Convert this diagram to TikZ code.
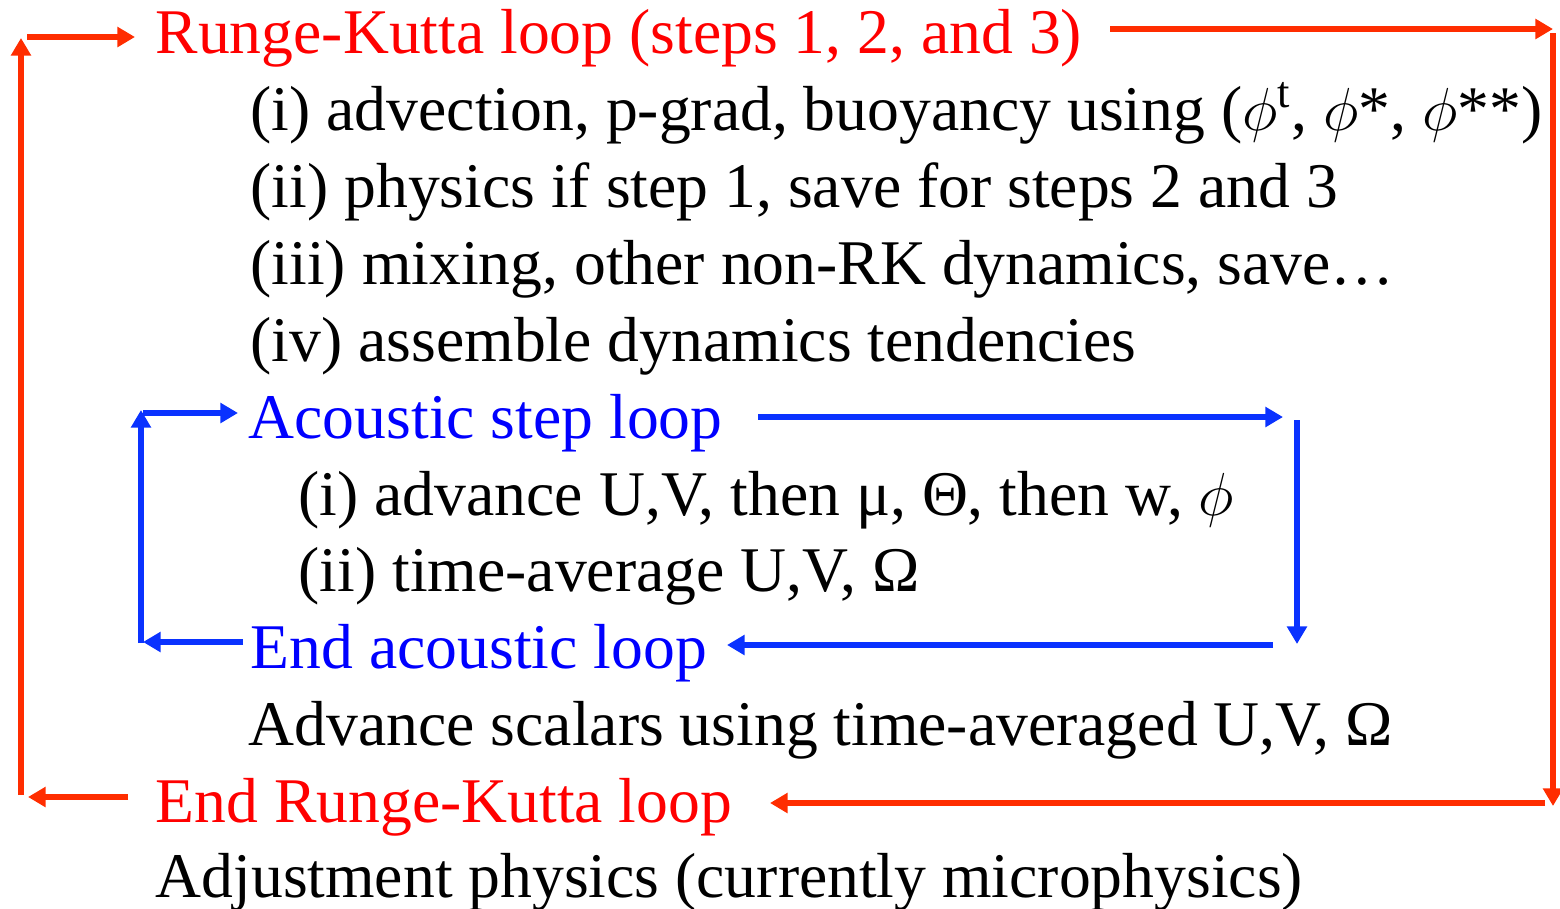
\documentclass[tikz,border=0pt]{standalone}
\usepackage{fontspec}
\setmainfont{Liberation Serif}
\usetikzlibrary{arrows.meta}
\definecolor{rktext}{RGB}{255,0,0}
\definecolor{rkline}{RGB}{255,45,0}
\definecolor{actext}{RGB}{0,0,255}
\definecolor{acline}{RGB}{10,50,255}
\tikzset{
  txt/.style={anchor=base west, inner sep=0pt, font=\fontsize{18.1}{22}\selectfont},
  rkarrow/.style={draw=rkline, line width=1.7pt, -{Triangle[length=5pt,width=5.5pt]}},
  acarrow/.style={draw=acline, line width=1.7pt, -{Triangle[length=5pt,width=5.5pt]}}
}
\begin{document}
\begin{tikzpicture}[x=0.01cm,y=-0.01cm]
\useasboundingbox (0,0) rectangle (1560,908);
\node[txt, text=rktext] (rk) at (155,53) {Runge-Kutta loop (steps 1, 2, and 3)};
\node[txt] (adv) at (250,130) {(i) advection, p-grad, buoyancy using ($\phi^{\mathrm{t}}$, $\phi$*, $\phi$**)};
\node[txt] (phys) at (250,207) {(ii) physics if step 1, save for steps 2 and 3};
\node[txt] (mix) at (250,284) {(iii) mixing, other non-RK dynamics, save…};
\node[txt] (tend) at (250,361) {(iv) assemble dynamics tendencies};
\node[txt, text=actext] (ac) at (248,438) {Acoustic step loop};
\node[txt] (uv) at (298,515) {(i) advance U,V, then μ, Θ, then w, $\phi$};
\node[txt] (avg) at (298,591) {(ii) time-average U,V, Ω};
\node[txt, text=actext] (endac) at (250,668) {End acoustic loop};
\node[txt] (scal) at (248,745) {Advance scalars using time-averaged U,V, Ω};
\node[txt, text=rktext] (endrk) at (155,822) {End Runge-Kutta loop};
\node[txt] (adj) at (155,897) {Adjustment physics (currently microphysics)};

\coordinate (rkA) at (1110,29);
\coordinate (rkB) at (1553,29);
\coordinate (rkC) at (1553,33);
\coordinate (rkD) at (1553,806);
\coordinate (rkE) at (1545,803);
\coordinate (rkF) at (770,803);
\coordinate (rkG) at (128,797);
\coordinate (rkH) at (28,797);
\coordinate (rkI) at (21,795);
\coordinate (rkJ) at (21,38);
\coordinate (rkK) at (27,37);
\coordinate (rkL) at (135,37);
\draw[rkarrow] (rkA) -- (rkB);
\draw[rkarrow] (rkC) -- (rkD);
\draw[rkarrow] (rkE) -- (rkF);
\draw[rkarrow] (rkG) -- (rkH);
\draw[rkarrow] (rkI) -- (rkJ);
\draw[rkarrow] (rkK) -- (rkL);

\coordinate (acA) at (758,417);
\coordinate (acB) at (1283,417);
\coordinate (acC) at (1297,420);
\coordinate (acD) at (1297,644);
\coordinate (acE) at (1273,645);
\coordinate (acF) at (727,645);
\coordinate (acG) at (243,642);
\coordinate (acH) at (143,642);
\coordinate (acI) at (141,643);
\coordinate (acJ) at (141,410);
\coordinate (acK) at (143,413);
\coordinate (acL) at (238,413);
\draw[acarrow] (acA) -- (acB);
\draw[acarrow] (acC) -- (acD);
\draw[acarrow] (acE) -- (acF);
\draw[acarrow] (acG) -- (acH);
\draw[acarrow] (acI) -- (acJ);
\draw[acarrow] (acK) -- (acL);
\end{tikzpicture}
\end{document}
